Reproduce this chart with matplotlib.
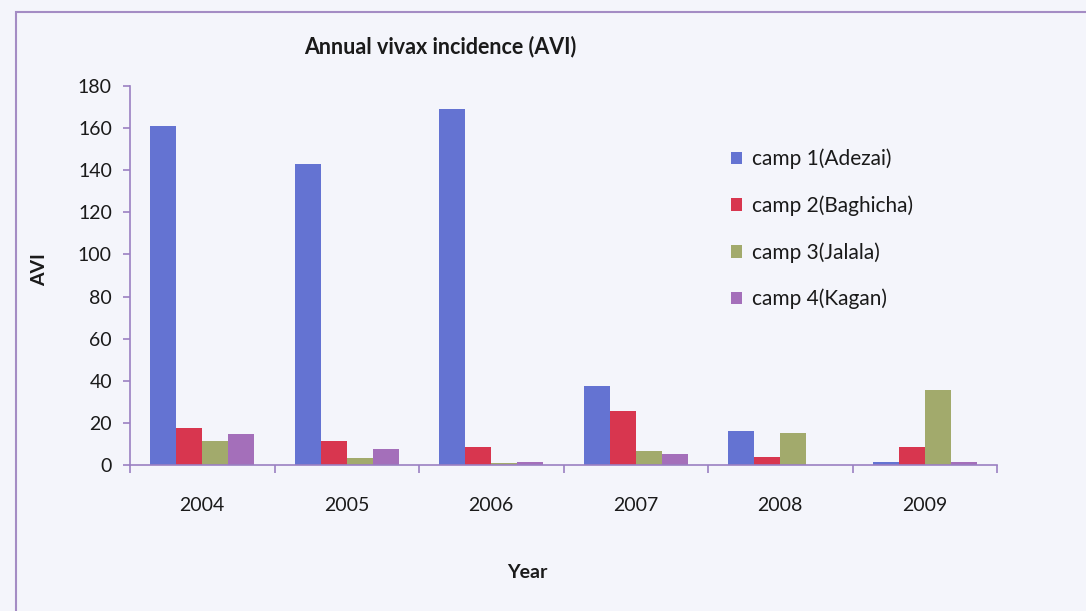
import matplotlib.pyplot as plt
import matplotlib.patches as patches
import numpy as np

plt.rcParams['font.family'] = ['Lato', 'DejaVu Sans']
plt.rcParams['text.color'] = '#1a1a1a'

years = ['2004', '2005', '2006', '2007', '2008', '2009']
camp_names = ['camp 1(Adezai)', 'camp 2(Baghicha)', 'camp 3(Jalala)', 'camp 4(Kagan)']
camp1 = [161, 143, 169, 37.5, 16.3, 1.3]
camp2 = [17.5, 11.5, 8.4, 25.8, 3.6, 8.4]
camp3 = [11.4, 3.5, 0.8, 6.6, 15, 35.6]
camp4 = [14.7, 7.8, 1.6, 5.1, 0, 1.3]
colors = ['#6473d2', '#d8364f', '#a2aa6c', '#a46fba']

bg = '#f4f5fb'
axis_col = '#9a80c2'

fig = plt.figure(figsize=(10.86, 6.11), dpi=100, facecolor=bg)
ax = fig.add_axes([130 / 1086, 1 - 465 / 611, 867 / 1086, 379 / 611])
ax.set_facecolor(bg)

x = np.arange(len(years))
w = 0.18
for i, vals in enumerate([camp1, camp2, camp3, camp4]):
    ax.bar(x + (i - 1.5) * w, vals, w, color=colors[i], label=camp_names[i])

ax.set_xlim(-0.5, len(years) - 0.5)
ax.set_ylim(0, 180)
ax.set_yticks(range(0, 181, 20))
ax.set_xticks(x)
ax.set_xticklabels(years)
ax.set_xticks(np.arange(-0.5, len(years)), minor=True)
ax.tick_params(axis='x', which='major', length=0, labelsize=14, pad=23,
               labelcolor='#1a1a1a')
ax.tick_params(axis='x', which='minor', length=6, color=axis_col, width=1.2, direction='out')
ax.tick_params(axis='y', length=5, color=axis_col, width=1.2, labelsize=14, pad=8,
               labelcolor='#1a1a1a')

for side in ['top', 'right']:
    ax.spines[side].set_visible(False)
for side in ['left', 'bottom']:
    ax.spines[side].set_color(axis_col)
    ax.spines[side].set_linewidth(1.2)

fig.text(440 / 1086, 1 - 47 / 611, 'Annual vivax incidence (AVI)', ha='center', va='center',
         fontsize=15.5, fontweight='bold')
fig.text(40 / 1086, 1 - 270 / 611, 'AVI', ha='center', va='center', rotation=90,
         fontsize=14, fontweight='bold')
fig.text(527 / 1086, 1 - 573 / 611, 'Year', ha='center', va='center',
         fontsize=14, fontweight='bold')

ax.legend(loc='upper left', bbox_to_anchor=(712 / 1086, 1 - 130 / 611),
          bbox_transform=fig.transFigure, frameon=False, fontsize=15,
          handlelength=0.55, handleheight=0.55, handletextpad=0.45, labelspacing=1.25)

# chart frame
frame = patches.Rectangle((16 / 1086, -0.01), 1.1, 1 - 12 / 611 + 0.01,
                          transform=fig.transFigure, fill=False,
                          edgecolor='#a48cc4', linewidth=1.5)
fig.patches.append(frame)

fig.savefig('out.png', dpi=100, facecolor=bg)
